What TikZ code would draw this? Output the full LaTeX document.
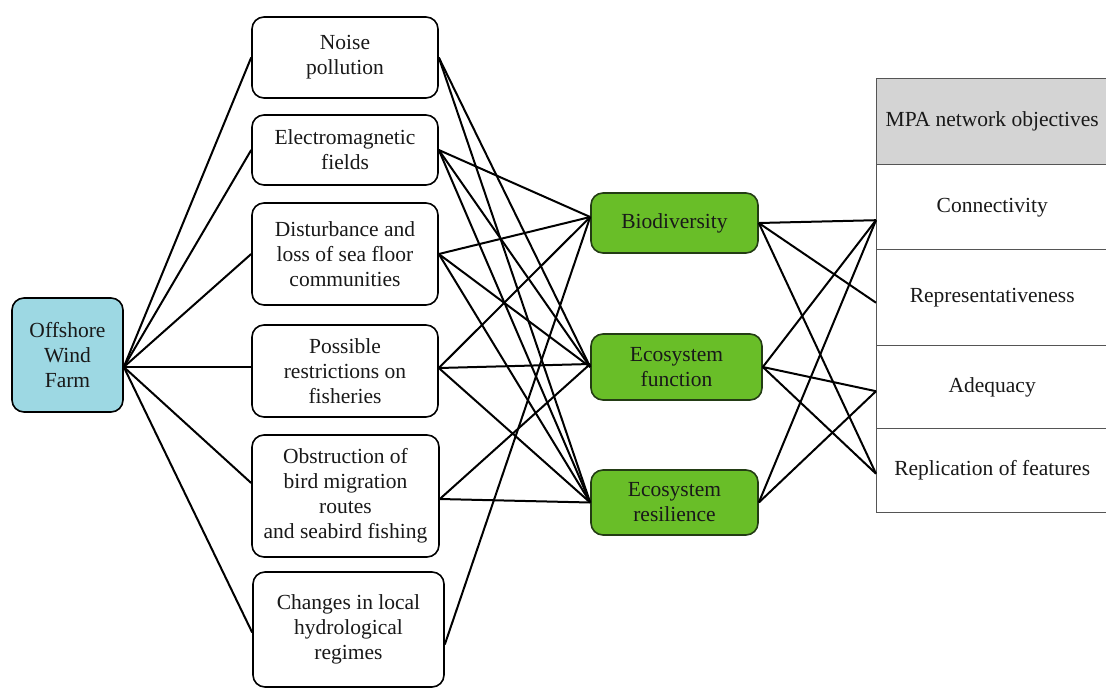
\documentclass[tikz,border=0pt]{standalone}
\usepackage{fontspec}
\setmainfont{Liberation Serif}
\newcommand{\dfont}{\fontsize{21.5}{25}\selectfont}
\definecolor{owfblue}{RGB}{157,216,227}
\definecolor{effgreen}{RGB}{105,190,40}
\definecolor{effedge}{RGB}{35,60,20}
\definecolor{hdrgray}{RGB}{212,212,212}
\definecolor{tblline}{RGB}{85,85,85}
\begin{document}
\begin{tikzpicture}[x=1pt,y=-1pt,
  mbox/.style={draw=black, line width=1.6pt, rounded corners=12pt, fill=white,
    align=center, inner sep=0pt, font=\dfont, text=black!90},
  owf/.style={mbox, fill=owfblue},
  eff/.style={mbox, fill=effgreen, draw=effedge},
  row/.style={draw=tblline, line width=1.4pt, fill=white, inner sep=0pt,
    minimum width=231pt, font=\dfont, text=black!90, anchor=north west},
  link/.style={draw=black, line width=2pt}]
\useasboundingbox (0,0) rectangle (1106,689);

% source
\node[owf, minimum width=111pt, minimum height=114pt] (owf) at (67.5,355) {Offshore\\Wind\\Farm};

% pressures
\node[mbox, minimum width=186pt, minimum height=81pt]  (noise) at (345,57.5) {Noise\\pollution};
\node[mbox, minimum width=186pt, minimum height=70pt]  (emf)   at (345,150) {Electromagnetic\\fields};
\node[mbox, minimum width=186pt, minimum height=102pt] (dist)  at (345,254) {Disturbance and\\loss of sea floor\\communities};
\node[mbox, minimum width=186pt, minimum height=92pt]  (fish)  at (345,371) {Possible\\restrictions on\\fisheries};
\node[mbox, minimum width=187pt, minimum height=122pt] (bird)  at (345.5,496) {Obstruction of\\bird migration\\routes\\and seabird fishing};
\node[mbox, minimum width=191pt, minimum height=115pt] (hydro) at (348.5,629.5) {Changes in local\\hydrological\\regimes};

% effects
\node[eff, minimum width=167pt, minimum height=60pt] (bio)  at (674.5,223) {Biodiversity};
\node[eff, minimum width=171pt, minimum height=66pt] (func) at (676.5,367) {Ecosystem\\function};
\node[eff, minimum width=167pt, minimum height=65pt] (res)  at (674.5,502.5) {Ecosystem\\resilience};

% table
\node[row, fill=hdrgray, minimum height=86pt] (hdr)  at (876,78)  {MPA network objectives};
\node[row, minimum height=85pt] (conn) at (876,164) {Connectivity};
\node[row, minimum height=96pt] (rep)  at (876,249) {Representativeness};
\node[row, minimum height=83pt] (adeq) at (876,345) {Adequacy};
\node[row, minimum height=84pt] (repl) at (876,428) {Replication of features};

% source -> pressures
\foreach \t/\s in {noise/0, emf/0, dist/0, fish/4, bird/13, hydro/-3}
  \draw[link] ([yshift=-12pt]owf.east) -- ([yshift=\s pt]\t.west);

% pressures -> effects
\draw[link] (noise.east) -- (func.west);
\draw[link] (noise.east) -- (res.west);
\draw[link] (emf.east) -- ([yshift=6pt]bio.west);
\draw[link] (emf.east) -- (func.west);
\draw[link] (emf.east) -- (res.west);
\draw[link] (dist.east) -- ([yshift=6pt]bio.west);
\draw[link] (dist.east) -- (func.west);
\draw[link] (dist.east) -- (res.west);
\draw[link] ([yshift=3pt]fish.east) -- ([yshift=6pt]bio.west);
\draw[link] ([yshift=3pt]fish.east) -- ([yshift=3pt]func.west);
\draw[link] ([yshift=3pt]fish.east) -- (res.west);
\draw[link] ([yshift=-3pt]bird.east) -- ([yshift=3pt]func.west);
\draw[link] ([yshift=-3pt]bird.east) -- (res.west);
\draw[link] ([yshift=-15pt]hydro.east) -- ([yshift=6pt]bio.west);

% effects -> objectives
\draw[link] (bio.east) -- ([yshift=-13pt]conn.west);
\draw[link] (bio.east) -- ([yshift=-5pt]rep.west);
\draw[link] (bio.east) -- ([yshift=-3pt]repl.west);
\draw[link] (func.east) -- ([yshift=-13pt]conn.west);
\draw[link] (func.east) -- ([yshift=-4pt]adeq.west);
\draw[link] (func.east) -- ([yshift=-3pt]repl.west);
\draw[link] (res.east) -- ([yshift=-13pt]conn.west);
\draw[link] (res.east) -- ([yshift=-4pt]adeq.west);
\end{tikzpicture}
\end{document}
